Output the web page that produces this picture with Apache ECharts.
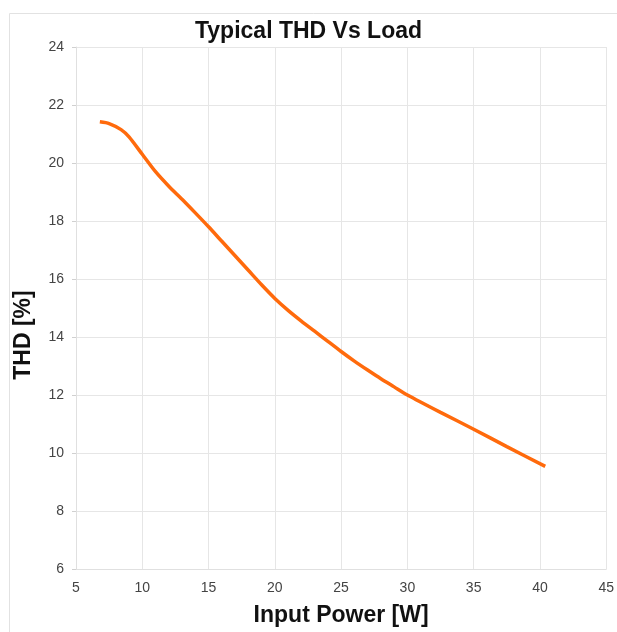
<!DOCTYPE html>
<html>
<head>
<meta charset="utf-8">
<script src="https://cdn.jsdelivr.net/npm/echarts@6/dist/echarts.min.js"></script>
<style>
html,body{margin:0;padding:0;background:#fff;}
#c{width:617px;height:632px;}
</style>
</head>
<body>
<div id="c"></div>
<script>
const titleText = "Typical THD Vs Load";
const xName = "Input Power [W]";
const yName = "THD [%]";
const inputPower = [6.8, 7.5, 8.4, 9.0, 10.0, 11.0, 12.0, 13.0, 14.0, 15.0, 16.0, 17.0, 18.0, 19.0, 20.0, 21.0, 22.0, 23.0, 24.0, 25.0, 26.0, 27.0, 28.0, 29.0, 30.0, 32.5, 35.0, 37.5, 40.4];
const thd = [21.42, 21.36, 21.15, 20.9, 20.3, 19.7, 19.2, 18.75, 18.28, 17.8, 17.3, 16.8, 16.3, 15.8, 15.33, 14.92, 14.55, 14.2, 13.85, 13.5, 13.17, 12.86, 12.56, 12.28, 12.0, 11.4, 10.82, 10.22, 9.54];
const xRange = [5, 45, 5];
const yRange = [6, 24, 2];

const chart = echarts.init(document.getElementById('c'));
const font = "'Liberation Sans', Arial, sans-serif";
chart.setOption({
  animation: false,
  backgroundColor: '#fff',
  graphic: [{
    type: 'rect', left: 7, top: 11, silent: true,
    shape: { width: 640, height: 640 },
    style: { fill: 'none', stroke: '#e2e2e2', lineWidth: 1 }
  }],
  title: {
    text: titleText, left: 'center', top: 15,
    textStyle: { fontFamily: font, fontSize: 23, fontWeight: 'bold', color: '#111' }
  },
  grid: { left: 76, right: 9, top: 47, bottom: 62, containLabel: false },
  xAxis: {
    type: 'value', min: xRange[0], max: xRange[1], interval: xRange[2],
    name: xName, nameLocation: 'middle', nameGap: 35,
    nameTextStyle: { fontFamily: font, fontSize: 23, fontWeight: 'bold', color: '#111' },
    axisLine: { show: true, lineStyle: { color: '#e0e0e0' } },
    axisTick: { show: false },
    axisLabel: { fontFamily: font, fontSize: 14, color: '#444', margin: 12 },
    splitLine: { show: true, lineStyle: { color: '#e6e6e6' } }
  },
  yAxis: {
    type: 'value', min: yRange[0], max: yRange[1], interval: yRange[2],
    name: yName, nameLocation: 'middle', nameGap: 41,
    nameTextStyle: { fontFamily: font, fontSize: 23, fontWeight: 'bold', color: '#111', padding: [0, 54, 0, 0] },
    axisLine: { show: true, lineStyle: { color: '#e0e0e0' } },
    axisTick: { show: true, length: 4, lineStyle: { color: '#d0d0d0' } },
    axisLabel: { fontFamily: font, fontSize: 14, color: '#444', margin: 12 },
    splitLine: { show: true, lineStyle: { color: '#e6e6e6' } }
  },
  series: [{
    type: 'line',
    data: inputPower.map((x, i) => [x, thd[i]]),
    smooth: 0.25,
    showSymbol: false,
    lineStyle: { color: '#ff6a0c', width: 3.5 }
  }]
});
</script>
</body>
</html>
